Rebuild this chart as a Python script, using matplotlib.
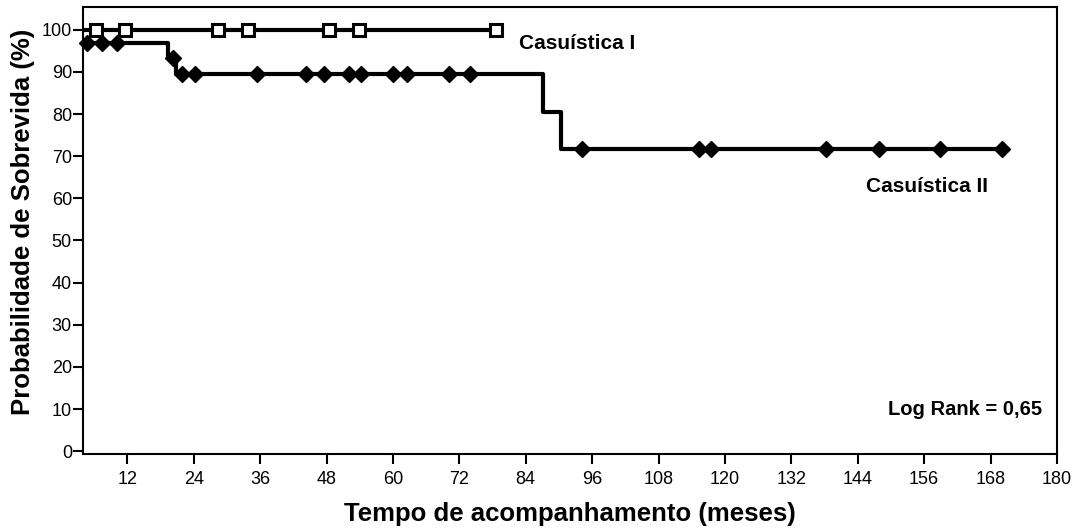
import numpy as np
import matplotlib.pyplot as plt

plt.rcParams['font.family'] = ['Liberation Sans', 'DejaVu Sans']

# Casuística I: sem óbitos
g1_times = [0, 78.6]
g1_surv = [100, 100]
g1_censor = [6.4, 11.5, 28.4, 33.8, 48.5, 53.8, 78.6]

# Casuística II
g2_times = [0, 2.0, 19.4, 20.8, 87.1, 90.3, 170.1]
g2_surv = [100, 96.8, 93.2, 89.6, 80.6, 71.7, 71.7]
g2_censor = [4.8, 7.5, 10.2, 20.3, 21.9, 24.3, 35.5, 44.3, 47.6, 52.1, 54.2,
             60.0, 62.5, 70.1, 73.9, 94.1, 115.4, 117.4, 138.2, 147.9, 158.8, 170.1]

xticks = list(range(12, 181, 12))
yticks = list(range(0, 101, 10))


def surv_at(times, surv, t):
    i = np.searchsorted(times, t, side='right') - 1
    return np.array(surv)[i]


fig = plt.figure(figsize=(10.77, 5.28), dpi=100)
ax = fig.add_axes([0.0771, 0.140, 0.9043, 0.8458])

ax.plot(g1_times, g1_surv, drawstyle='steps-post', color='black', lw=3, zorder=2)
ax.plot(g1_censor, surv_at(g1_times, g1_surv, g1_censor), 's', ms=9,
        mfc='white', mec='black', mew=2.2, zorder=3, clip_on=False)

ax.plot(g2_times, g2_surv, drawstyle='steps-post', color='black', lw=3, zorder=2)
ax.plot(g2_censor, surv_at(g2_times, g2_surv, g2_censor), 'D', ms=8.5,
        color='black', zorder=3, clip_on=False)

ax.set_xlim(4, 180)
ax.set_ylim(-0.7, 105.3)
ax.set_xticks(xticks)
ax.set_yticks(yticks)
ax.tick_params(axis='both', direction='out', length=7, width=1.5, labelsize=13)
ax.tick_params(axis='x', pad=5)
ax.tick_params(axis='y', pad=1)
for s in ax.spines.values():
    s.set_linewidth(1.5)

ax.set_xlabel('Tempo de acompanhamento (meses)', fontsize=18.5, fontweight='bold', labelpad=10)
ax.set_ylabel('Probabilidade de Sobrevida (%)', fontsize=18.5, fontweight='bold')
ax.yaxis.set_label_coords(-0.049, 0.52)

ax.text(82.8, 96.7, 'Casuística I', fontsize=15, fontweight='bold', va='center', ha='left')
ax.text(145.4, 62.8, 'Casuística II', fontsize=15, fontweight='bold', va='center', ha='left')
ax.text(177.3, 10, 'Log Rank = 0,65', fontsize=14.5, fontweight='bold', va='center', ha='right')

fig.savefig('out.png', dpi=100)
